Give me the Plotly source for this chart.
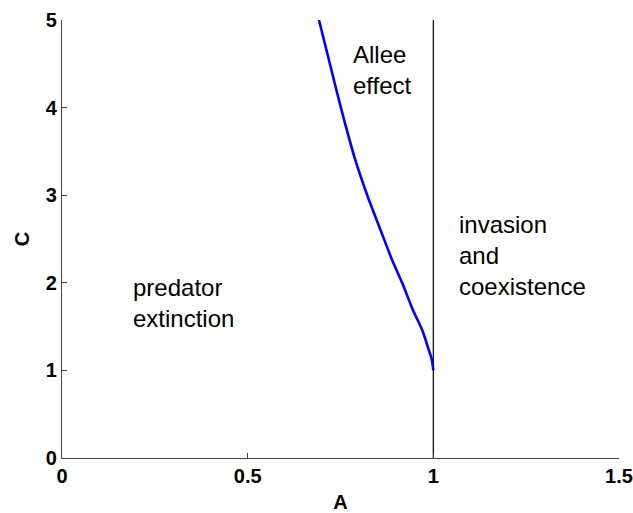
import plotly.graph_objects as go

# Boundary curve of the Allee-effect region in the (A, C) plane
A_curve = [0.692, 0.719, 0.751, 0.790, 0.822, 0.858, 0.889, 0.916, 0.945, 0.970, 0.988, 0.996, 1.0]
C_curve = [5.0, 4.54, 4.0, 3.40, 3.0, 2.60, 2.26, 2.0, 1.69, 1.46, 1.23, 1.12, 1.0]

# Invasion threshold A = 1
A_threshold = [1.0, 1.0]
C_threshold = [0.0, 5.0]

x_ticks = [0, 0.5, 1, 1.5]
x_tick_labels = ["0", "0.5", "1", "1.5"]
y_ticks = [0, 1, 2, 3, 4, 5]
y_tick_labels = ["0", "1", "2", "3", "4", "5"]

# Region labels: (text, A, C)
region_text = ["Allee<br>effect", "predator<br>extinction", "invasion<br>and<br>coexistence"]
region_A = [0.778, 0.187, 1.064]
region_C = [4.43, 1.77, 2.31]

FONT = "Liberation Sans, Arial, Helvetica, sans-serif"

fig = go.Figure()
fig.add_trace(go.Scatter(x=A_threshold, y=C_threshold, mode="lines",
                         line=dict(color="black", width=1.2), showlegend=False,
                         hoverinfo="skip"))
fig.add_trace(go.Scatter(x=A_curve, y=C_curve, mode="lines",
                         line=dict(color="#0000ff", width=2.6, shape="spline",
                                   smoothing=0.8),
                         showlegend=False))

for t, a, c in zip(region_text, region_A, region_C):
    fig.add_annotation(x=a, y=c, text=t, showarrow=False, xanchor="left",
                       yanchor="middle", align="left",
                       font=dict(family=FONT, size=24, color="black"))

axis_common = dict(showgrid=False, zeroline=False, showline=True,
                   linecolor="#404040", linewidth=1.2, ticks="inside",
                   ticklen=5, tickwidth=1, tickcolor="#404040", mirror=False,
                   tickfont=dict(family=FONT, size=20, color="black", weight="bold"),
                   automargin=False)

fig.update_xaxes(range=[0, 1.5], tickvals=x_ticks, ticktext=x_tick_labels,
                 title=dict(text="A", standoff=8,
                            font=dict(family=FONT, size=20, color="black", weight="bold")),
                 **axis_common)
fig.update_yaxes(range=[0, 5], tickvals=y_ticks, ticktext=y_tick_labels,
                 title=dict(text="C", standoff=10,
                            font=dict(family=FONT, size=20, color="black", weight="bold")),
                 **axis_common)

fig.update_layout(width=633, height=513,
                  margin=dict(l=62, r=14, t=20, b=55, pad=0),
                  paper_bgcolor="white", plot_bgcolor="white")

fig.write_html("out.html")
